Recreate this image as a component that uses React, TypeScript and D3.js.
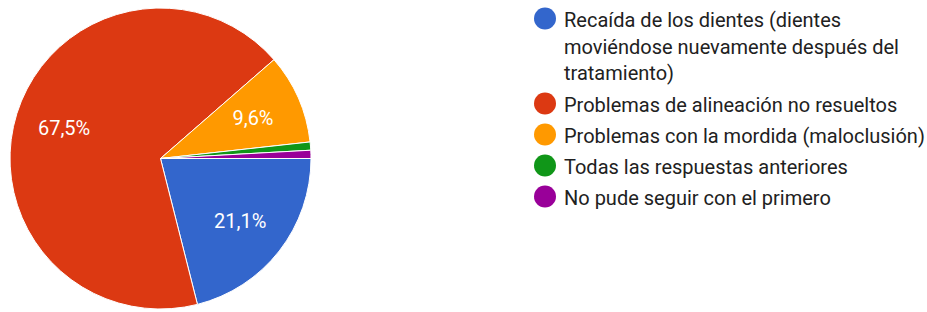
import React from "react";
import * as d3 from "d3";

const categories = [
  "Recaída de los dientes (dientes moviéndose nuevamente después del tratamiento)",
  "Problemas de alineación no resueltos",
  "Problemas con la mordida (maloclusión)",
  "Todas las respuestas anteriores",
  "No pude seguir con el primero",
];
const legendLines = [
  ["Recaída de los dientes (dientes", "moviéndose nuevamente después del", "tratamiento)"],
  ["Problemas de alineación no resueltos"],
  ["Problemas con la mordida (maloclusión)"],
  ["Todas las respuestas anteriores"],
  ["No pude seguir con el primero"],
];
const values = [24, 77, 11, 1, 1];
const colors = ["#3366cc", "#dc3912", "#ff9900", "#109618", "#990099"];

export default function App() {
  const W = 927, H = 312;
  const cx = 160.5, cy = 158.5, R = 150.5;
  const total = d3.sum(values);
  const pie = d3.pie<number>().sort(null).startAngle(Math.PI / 2).endAngle(Math.PI / 2 + 2 * Math.PI);
  const arcs = pie(values);
  const arc = d3.arc<d3.PieArcDatum<number>>().innerRadius(0).outerRadius(R);
  const fmt = (v: number) => ((v / total) * 100).toFixed(1).replace(".", ",") + "%";
  const font = "Roboto, Arial, sans-serif";

  const lx = 545, tx = 564, lineH = 26.5, itemGap = 31;
  let base = 27;
  const items = legendLines.map((lines, i) => {
    const b = base;
    base += (lines.length - 1) * lineH + itemGap + (i === 0 ? 1 : 0);
    return { lines, b, i };
  });

  return (
    <svg width={W} height={H} style={{ position: "absolute", left: 0, top: 0, background: "#fff" }}>
      <g transform={`translate(${cx},${cy})`}>
        {arcs.map((a, i) => (
          <path key={i} d={arc(a) || ""} fill={colors[i]} stroke="#fff" strokeWidth={1} />
        ))}
        {arcs.map((a, i) => {
          if (a.value / total < 0.05) return null;
          const mid = (a.startAngle + a.endAngle) / 2;
          const r = 101;
          const x = Math.sin(mid) * r;
          const y = -Math.cos(mid) * r;
          return (
            <text key={i} x={x} y={y + 7} textAnchor="middle" fill="#fff" fontFamily={font} fontSize={20}>
              {fmt(a.value)}
            </text>
          );
        })}
      </g>
      <g>
        {items.map(({ lines, b, i }) => (
          <g key={i}>
            <title>{categories[i]}</title>
            <circle cx={lx} cy={b - 8.5} r={11} fill={colors[i]} />
            {lines.map((t, j) => (
              <text key={j} x={tx} y={b + j * lineH} fill="#212121" fontFamily={font} fontSize={20}>
                {t}
              </text>
            ))}
          </g>
        ))}
      </g>
    </svg>
  );
}
